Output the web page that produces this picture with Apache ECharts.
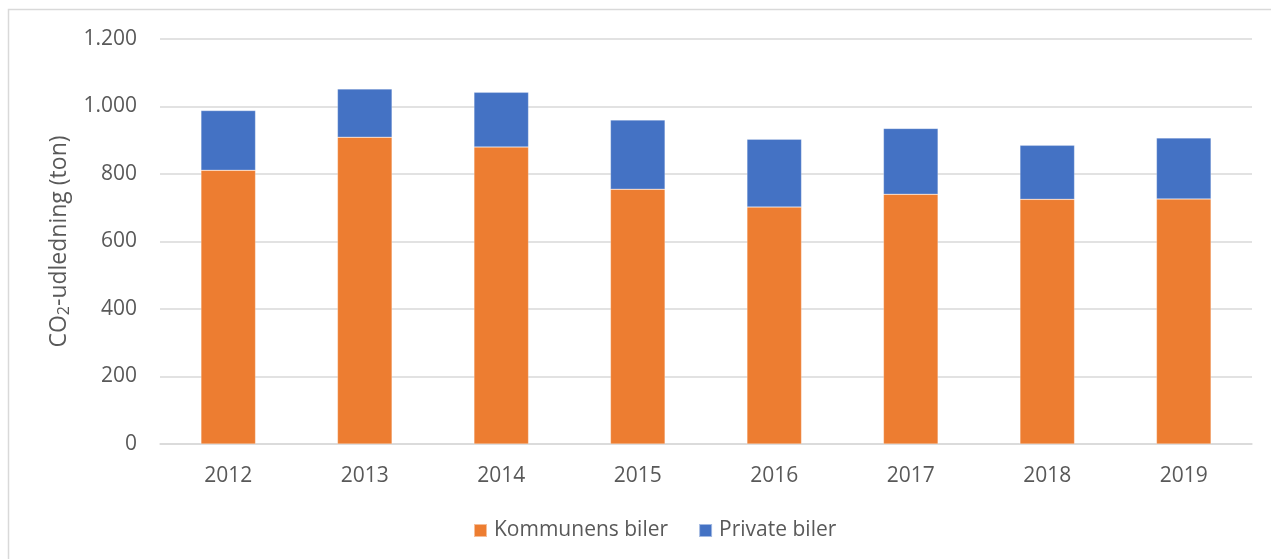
<!DOCTYPE html>
<html>
  <head>
    <meta charset="utf-8">
    <script src="https://cdn.jsdelivr.net/npm/echarts@6/dist/echarts.min.js"></script>
    <style>
      html, body { margin: 0; padding: 0; background: #fff; }
      #chart { width: 1271px; height: 559px; }
    </style>
  </head>
  <body>
    <div id="chart"></div>
    <script>
      // data
      const years = ['2012', '2013', '2014', '2015', '2016', '2017', '2018', '2019'];
      const kommunens = [811, 909, 880, 755, 702, 740, 725, 726];
      const private_ = [177, 143, 162, 205, 201, 195, 160, 181];
      const seriesNames = ['Kommunens biler', 'Private biler'];

      const txt = '#595959';
      const font = 'Open Sans';

      const chart = echarts.init(document.getElementById('chart'), null, { renderer: 'canvas' });
      chart.setOption({
        animation: false,
        textStyle: { fontFamily: font, color: txt },
        graphic: [{
          type: 'rect',
          shape: { x: 8.5, y: 9.5, width: 1400, height: 700 },
          style: { fill: 'none', stroke: '#d9d9d9', lineWidth: 1.5 },
          silent: true
        }],
        grid: { left: 160, right: 19, top: 39, bottom: 115 },
        legend: {
          data: seriesNames,
          bottom: 13,
          left: 468,
          itemWidth: 13,
          itemHeight: 13,
          itemGap: 30,
          icon: 'rect',
          textStyle: { fontFamily: font, fontSize: 21, color: txt, padding: [0, 0, 0, 2] }
        },
        xAxis: {
          type: 'category',
          data: years,
          axisTick: { show: false },
          axisLine: { lineStyle: { color: '#d9d9d9', width: 1.5 } },
          axisLabel: { fontFamily: font, fontSize: 21, color: txt, margin: 22 }
        },
        yAxis: {
          type: 'value',
          min: 0,
          max: 1200,
          interval: 200,
          name: '{a|CO}{s|2}{a|-udledning (ton)}',
          nameLocation: 'middle',
          nameGap: 88,
          nameTextStyle: {
            fontFamily: font,
            fontSize: 23,
            color: txt,
            rich: {
              a: { fontFamily: font, fontSize: 23, color: txt },
              s: { fontFamily: font, fontSize: 16, color: txt, verticalAlign: 'bottom', padding: [9, 0, 0, 0] }
            }
          },
          axisLine: { show: false },
          axisTick: { show: false },
          splitLine: { lineStyle: { color: '#d9d9d9', width: 1.5 } },
          axisLabel: {
            fontFamily: font, fontSize: 21, color: txt, margin: 23,
            formatter: function (v) {
              return String(v).replace(/\B(?=(\d{3})+(?!\d))/g, '.');
            }
          }
        },
        series: [{
          name: seriesNames[0],
          type: 'bar',
          stack: 'co2',
          data: kommunens,
          barWidth: '40%',
          itemStyle: { color: '#ED7D31', borderColor: 'rgba(255,255,255,0.5)', borderWidth: 0.5 }
        }, {
          name: seriesNames[1],
          type: 'bar',
          stack: 'co2',
          data: private_,
          barWidth: '40%',
          itemStyle: { color: '#4472C4', borderColor: 'rgba(255,255,255,0.5)', borderWidth: 0.5 }
        }]
      });
    </script>
  </body>
</html>
